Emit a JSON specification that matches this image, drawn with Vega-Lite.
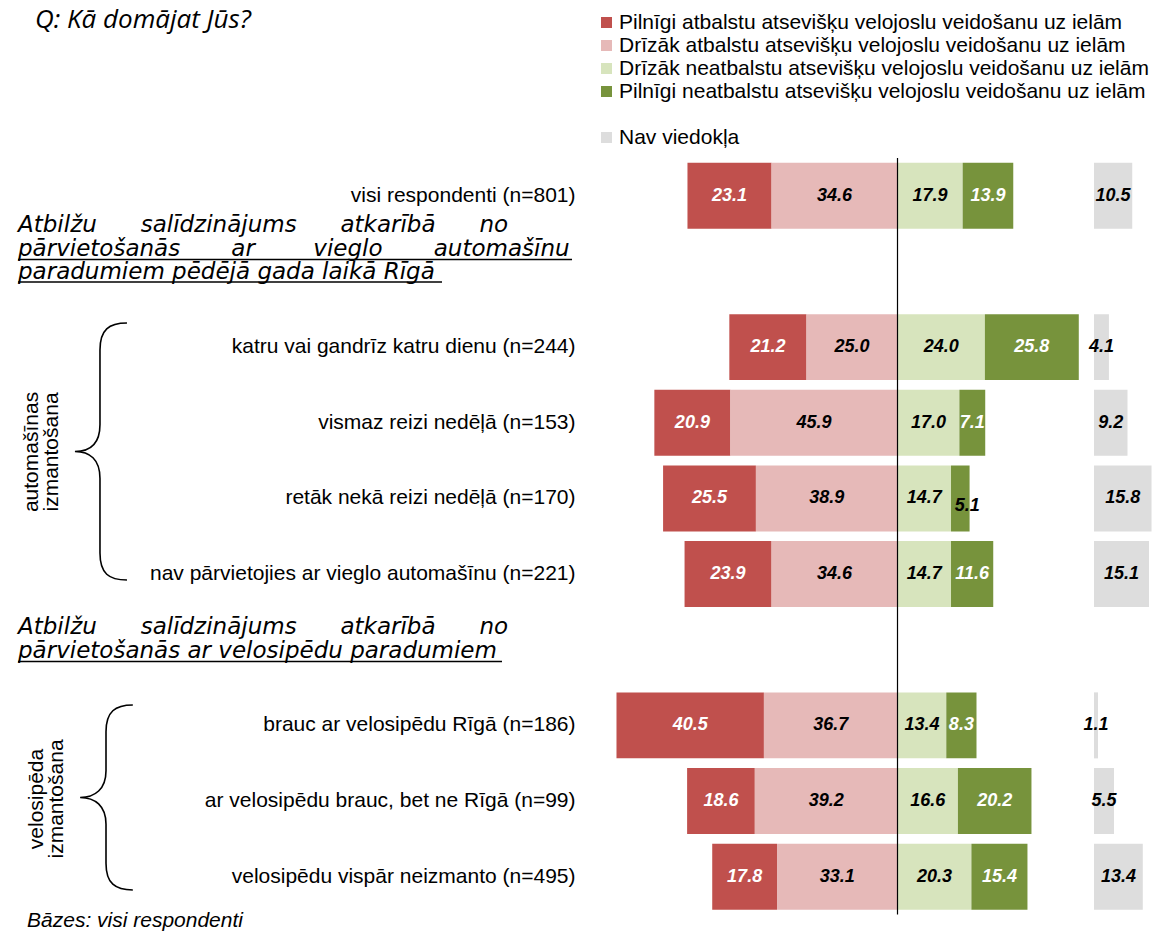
{
  "$schema": "https://vega.github.io/schema/vega-lite/v6.json",
  "autosize": "none",
  "padding": {"left": 0, "top": 158, "right": 1156, "bottom": 775},
  "background": "white",
  "config": {"view": {"stroke": null}, "font": "Liberation Sans"},
  "datasets": {
    "rows": [
      {"g": "visi respondenti (n=801)", "Pilnīgi atbalstu atsevišķu velojoslu veidošanu uz ielām": 23.1, "Drīzāk atbalstu atsevišķu velojoslu veidošanu uz ielām": 34.6, "Drīzāk neatbalstu atsevišķu velojoslu veidošanu uz ielām": 17.9, "Pilnīgi neatbalstu atsevišķu velojoslu veidošanu uz ielām": 13.9, "Nav viedokļa": 10.5},
      {"g": "katru vai gandrīz katru dienu (n=244)", "Pilnīgi atbalstu atsevišķu velojoslu veidošanu uz ielām": 21.2, "Drīzāk atbalstu atsevišķu velojoslu veidošanu uz ielām": 25.0, "Drīzāk neatbalstu atsevišķu velojoslu veidošanu uz ielām": 24.0, "Pilnīgi neatbalstu atsevišķu velojoslu veidošanu uz ielām": 25.8, "Nav viedokļa": 4.1},
      {"g": "vismaz reizi nedēļā (n=153)", "Pilnīgi atbalstu atsevišķu velojoslu veidošanu uz ielām": 20.9, "Drīzāk atbalstu atsevišķu velojoslu veidošanu uz ielām": 45.9, "Drīzāk neatbalstu atsevišķu velojoslu veidošanu uz ielām": 17.0, "Pilnīgi neatbalstu atsevišķu velojoslu veidošanu uz ielām": 7.1, "Nav viedokļa": 9.2},
      {"g": "retāk nekā reizi nedēļā (n=170)", "Pilnīgi atbalstu atsevišķu velojoslu veidošanu uz ielām": 25.5, "Drīzāk atbalstu atsevišķu velojoslu veidošanu uz ielām": 38.9, "Drīzāk neatbalstu atsevišķu velojoslu veidošanu uz ielām": 14.7, "Pilnīgi neatbalstu atsevišķu velojoslu veidošanu uz ielām": 5.1, "Nav viedokļa": 15.8},
      {"g": "nav pārvietojies ar vieglo automašīnu (n=221)", "Pilnīgi atbalstu atsevišķu velojoslu veidošanu uz ielām": 23.9, "Drīzāk atbalstu atsevišķu velojoslu veidošanu uz ielām": 34.6, "Drīzāk neatbalstu atsevišķu velojoslu veidošanu uz ielām": 14.7, "Pilnīgi neatbalstu atsevišķu velojoslu veidošanu uz ielām": 11.6, "Nav viedokļa": 15.1},
      {"g": "brauc ar velosipēdu Rīgā (n=186)", "Pilnīgi atbalstu atsevišķu velojoslu veidošanu uz ielām": 40.5, "Drīzāk atbalstu atsevišķu velojoslu veidošanu uz ielām": 36.7, "Drīzāk neatbalstu atsevišķu velojoslu veidošanu uz ielām": 13.4, "Pilnīgi neatbalstu atsevišķu velojoslu veidošanu uz ielām": 8.3, "Nav viedokļa": 1.1},
      {"g": "ar velosipēdu brauc, bet ne Rīgā (n=99)", "Pilnīgi atbalstu atsevišķu velojoslu veidošanu uz ielām": 18.6, "Drīzāk atbalstu atsevišķu velojoslu veidošanu uz ielām": 39.2, "Drīzāk neatbalstu atsevišķu velojoslu veidošanu uz ielām": 16.6, "Pilnīgi neatbalstu atsevišķu velojoslu veidošanu uz ielām": 20.2, "Nav viedokļa": 5.5},
      {"g": "velosipēdu vispār neizmanto (n=495)", "Pilnīgi atbalstu atsevišķu velojoslu veidošanu uz ielām": 17.8, "Drīzāk atbalstu atsevišķu velojoslu veidošanu uz ielām": 33.1, "Drīzāk neatbalstu atsevišķu velojoslu veidošanu uz ielām": 20.3, "Pilnīgi neatbalstu atsevišķu velojoslu veidošanu uz ielām": 15.4, "Nav viedokļa": 13.4}
    ]
  },
  "spacing": 0,
  "bounds": "flush",
  "resolve": {"scale": {"color": "shared"}},
  "hconcat": [
    {
      "width": 585,
      "height": 756.5,
      "layer": [
        {
          "data": {"values": [{"t": "Q: Kā domājat Jūs?"}]},
          "mark": {"type": "text", "font": "Open Sans", "fontStyle": "italic", "fontSize": 26, "align": "left", "baseline": "middle", "color": "black"},
          "encoding": {
            "text": {"field": "t"},
            "x": {"datum": 5.98, "type": "quantitative", "scale": {"domain": [0, 100], "nice": false, "zero": false}, "axis": null},
            "y": {"datum": -2.324, "type": "quantitative", "scale": {"domain": [-0.5, 9.5], "reverse": true, "nice": false, "zero": false}, "axis": null}
          }
        },
        {
          "data": {"values": [{"t": "Atbilžu \u00a0\u00a0\u00a0\u00a0\u00a0salīdzinājums \u00a0\u00a0\u00a0\u00a0\u00a0atkarībā \u00a0\u00a0\u00a0\u00a0\u00a0no\npārvietošanās \u00a0\u00a0\u00a0\u00a0\u00a0\u00a0ar \u00a0\u00a0\u00a0\u00a0\u00a0\u00a0\u00a0vieglo \u00a0\u00a0\u00a0\u00a0\u00a0\u00a0automašīnu\nparadumiem pēdējā gada laikā Rīgā"}]},
          "mark": {"type": "text", "font": "DejaVu Sans", "fontStyle": "italic", "fontSize": 23, "align": "left", "baseline": "middle", "lineBreak": "\n", "lineHeight": 23.5, "color": "black"},
          "encoding": {
            "text": {"field": "t"},
            "x": {"datum": 3.08, "type": "quantitative", "axis": null},
            "y": {"datum": 0.3922, "type": "quantitative", "axis": null}
          }
        },
        {
          "data": {"values": [{"t": "Atbilžu \u00a0\u00a0\u00a0\u00a0\u00a0salīdzinājums \u00a0\u00a0\u00a0\u00a0\u00a0atkarībā \u00a0\u00a0\u00a0\u00a0\u00a0no\npārvietošanās ar velosipēdu paradumiem"}]},
          "mark": {"type": "text", "font": "DejaVu Sans", "fontStyle": "italic", "fontSize": 23, "align": "left", "baseline": "middle", "lineBreak": "\n", "lineHeight": 23.5, "color": "black"},
          "encoding": {
            "text": {"field": "t"},
            "x": {"datum": 3.08, "type": "quantitative", "axis": null},
            "y": {"datum": 5.706, "type": "quantitative", "axis": null}
          }
        },
        {
          "data": {"values": [{}]},
          "mark": {"type": "rule", "color": "black", "strokeWidth": 1.5},
          "encoding": {"x": {"datum": 3.08, "type": "quantitative", "axis": null}, "x2": {"datum": 97.78}, "y": {"datum": 0.8417, "type": "quantitative", "axis": null}}
        },
        {
          "data": {"values": [{}]},
          "mark": {"type": "rule", "color": "black", "strokeWidth": 1.5},
          "encoding": {"x": {"datum": 3.08, "type": "quantitative", "axis": null}, "x2": {"datum": 75.56}, "y": {"datum": 1.1391, "type": "quantitative", "axis": null}}
        },
        {
          "data": {"values": [{}]},
          "mark": {"type": "rule", "color": "black", "strokeWidth": 1.5},
          "encoding": {"x": {"datum": 3.08, "type": "quantitative", "axis": null}, "x2": {"datum": 85.81}, "y": {"datum": 6.1556, "type": "quantitative", "axis": null}}
        },
        {
          "data": {"values": [{}]},
          "mark": {"type": "point", "shape": "M0.21,-1 C0.07,-1 0,-0.95 0,-0.79 L0,-0.21 C0,-0.06 -0.08,0 -0.195,0 C-0.08,0 0,0.06 0,0.21 L0,0.79 C0,0.95 0.07,1 0.21,1", "size": 66049, "filled": false, "stroke": "black", "strokeWidth": 1.6, "opacity": 1},
          "encoding": {"x": {"datum": 17.09, "type": "quantitative", "axis": null}, "y": {"datum": 3.38, "type": "quantitative", "axis": null}}
        },
        {
          "data": {"values": [{}]},
          "mark": {"type": "point", "shape": "M0.29,-1 C0.1,-1 0,-0.93 0,-0.71 L0,-0.29 C0,-0.09 -0.12,0 -0.28,0 C-0.12,0 0,0.09 0,0.29 L0,0.71 C0,0.93 0.1,1 0.29,1", "size": 34225, "filled": false, "stroke": "black", "strokeWidth": 1.6, "opacity": 1},
          "encoding": {"x": {"datum": 18.12, "type": "quantitative", "axis": null}, "y": {"datum": 7.953, "type": "quantitative", "axis": null}}
        },
        {
          "data": {"values": [{"t": "automašīnas\nizmantošana"}]},
          "mark": {"type": "text", "fontSize": 21, "angle": 270, "align": "center", "baseline": "middle", "lineBreak": "\n", "lineHeight": 20, "color": "black"},
          "encoding": {"text": {"field": "t"}, "x": {"datum": 5.47, "type": "quantitative", "axis": null}, "y": {"datum": 3.386, "type": "quantitative", "axis": null}}
        },
        {
          "data": {"values": [{"t": "velosipēda\nizmantošana"}]},
          "mark": {"type": "text", "fontSize": 21, "angle": 270, "align": "center", "baseline": "middle", "lineBreak": "\n", "lineHeight": 20, "color": "black"},
          "encoding": {"text": {"field": "t"}, "x": {"datum": 6.32, "type": "quantitative", "axis": null}, "y": {"datum": 7.973, "type": "quantitative", "axis": null}}
        },
        {
          "data": {"values": [{"t": "Bāzes: visi respondenti"}]},
          "mark": {"type": "text", "fontSize": 21, "fontStyle": "italic", "align": "left", "baseline": "middle", "color": "black"},
          "encoding": {"text": {"field": "t"}, "x": {"datum": 4.62, "type": "quantitative", "axis": null}, "y": {"datum": 9.586, "type": "quantitative", "axis": null}}
        }
      ]
    },
    {
      "width": 509,
      "height": 756.5,
      "layer": [
        {
          "data": {"name": "rows"},
          "transform": [
            {"fold": ["Pilnīgi atbalstu atsevišķu velojoslu veidošanu uz ielām", "Drīzāk atbalstu atsevišķu velojoslu veidošanu uz ielām", "Drīzāk neatbalstu atsevišķu velojoslu veidošanu uz ielām", "Pilnīgi neatbalstu atsevišķu velojoslu veidošanu uz ielām"], "as": ["k", "v"]},
            {"calculate": "indexof(datum.k, 'neatbalstu') >= 0 ? datum.v : -datum.v", "as": "s"},
            {"stack": "s", "groupby": ["g"], "sort": [{"field": "k", "order": "ascending"}], "as": ["x0", "x1"], "offset": "zero"},
            {"calculate": "(datum.x0 + datum.x1) / 2", "as": "m"}
          ],
          "layer": [
            {
              "mark": {"type": "bar"},
              "encoding": {
                "y": {"field": "g", "type": "nominal", "sort": null,
                  "scale": {"domain": ["visi respondenti (n=801)", " ", "katru vai gandrīz katru dienu (n=244)", "vismaz reizi nedēļā (n=153)", "retāk nekā reizi nedēļā (n=170)", "nav pārvietojies ar vieglo automašīnu (n=221)", "  ", "brauc ar velosipēdu Rīgā (n=186)", "ar velosipēdu brauc, bet ne Rīgā (n=99)", "velosipēdu vispār neizmanto (n=495)"], "paddingInner": 0.1276, "paddingOuter": 0.0638},
                  "axis": {"title": null, "domain": false, "ticks": false, "labelPadding": 10, "labelFontSize": 21, "labelFont": "Liberation Sans", "labelColor": "black", "labelLimit": 700}},
                "x": {"field": "x0", "type": "quantitative", "scale": {"domain": [-85.85, 53.98], "nice": false, "zero": false}, "axis": null},
                "x2": {"field": "x1"},
                "color": {"field": "k", "type": "nominal",
                  "scale": {"domain": ["Pilnīgi atbalstu atsevišķu velojoslu veidošanu uz ielām", "Drīzāk atbalstu atsevišķu velojoslu veidošanu uz ielām", "Drīzāk neatbalstu atsevišķu velojoslu veidošanu uz ielām", "Pilnīgi neatbalstu atsevišķu velojoslu veidošanu uz ielām", " ", "Nav viedokļa"], "range": ["#C0504D", "#E6B9B8", "#D7E4BD", "#77933C", "#FFFFFF", "#DDDDDD"]},
                  "legend": {"orient": "none", "legendX": 596, "legendY": -146, "title": null, "symbolType": "square", "symbolSize": 121, "symbolStrokeWidth": 0, "labelFontSize": 21, "labelFont": "Liberation Sans", "labelColor": "black", "labelLimit": 700, "labelOffset": 2, "rowPadding": 1, "padding": 0}}
              }
            },
            {
              "mark": {"type": "text", "fontSize": 18, "fontWeight": "bold", "fontStyle": "italic", "align": "center", "baseline": "middle",
                "fill": {"expr": "indexof(datum.k, 'Pilnīgi') == 0 && datum.v > 6 ? 'white' : 'black'"},
                "dx": {"expr": "datum.v < 6 ? 7 : 0"},
                "dy": {"expr": "datum.v < 6 ? 8 : 0"}},
              "encoding": {
                "y": {"field": "g", "type": "nominal", "sort": null},
                "x": {"field": "m", "type": "quantitative"},
                "text": {"field": "v", "type": "quantitative", "format": ".1f"}
              }
            }
          ]
        },
        {
          "data": {"values": [{}]},
          "mark": {"type": "rule", "color": "black", "strokeWidth": 1.2},
          "encoding": {"x": {"datum": 0, "type": "quantitative"}}
        }
      ]
    },
    {
      "width": 62,
      "height": 756.5,
      "data": {"name": "rows"},
      "transform": [
        {"fold": ["Nav viedokļa"], "as": ["k", "v"]},
        {"calculate": "datum.v / 2", "as": "m"}
      ],
      "layer": [
        {
          "mark": {"type": "bar"},
          "encoding": {
            "y": {"field": "g", "type": "nominal", "sort": null,
              "scale": {"domain": ["visi respondenti (n=801)", " ", "katru vai gandrīz katru dienu (n=244)", "vismaz reizi nedēļā (n=153)", "retāk nekā reizi nedēļā (n=170)", "nav pārvietojies ar vieglo automašīnu (n=221)", "  ", "brauc ar velosipēdu Rīgā (n=186)", "ar velosipēdu brauc, bet ne Rīgā (n=99)", "velosipēdu vispār neizmanto (n=495)"], "paddingInner": 0.1276, "paddingOuter": 0.0638},
              "axis": null},
            "x": {"field": "v", "type": "quantitative", "scale": {"domain": [0, 17.03], "nice": false}, "axis": null},
            "color": {"field": "k", "type": "nominal",
              "scale": {"domain": ["Pilnīgi atbalstu atsevišķu velojoslu veidošanu uz ielām", "Drīzāk atbalstu atsevišķu velojoslu veidošanu uz ielām", "Drīzāk neatbalstu atsevišķu velojoslu veidošanu uz ielām", "Pilnīgi neatbalstu atsevišķu velojoslu veidošanu uz ielām", " ", "Nav viedokļa"], "range": ["#C0504D", "#E6B9B8", "#D7E4BD", "#77933C", "#FFFFFF", "#DDDDDD"]},
              "legend": {"orient": "none", "legendX": 596, "legendY": -146, "title": null, "symbolType": "square", "symbolSize": 121, "symbolStrokeWidth": 0, "labelFontSize": 21, "labelFont": "Liberation Sans", "labelColor": "black", "labelLimit": 700, "labelOffset": 2, "rowPadding": 1, "padding": 0}}
          }
        },
        {
          "mark": {"type": "text", "fontSize": 18, "fontWeight": "bold", "fontStyle": "italic", "align": "center", "baseline": "middle", "color": "black"},
          "encoding": {
            "y": {"field": "g", "type": "nominal", "sort": null},
            "x": {"field": "m", "type": "quantitative"},
            "text": {"field": "v", "type": "quantitative", "format": ".1f"}
          }
        }
      ]
    }
  ]
}
